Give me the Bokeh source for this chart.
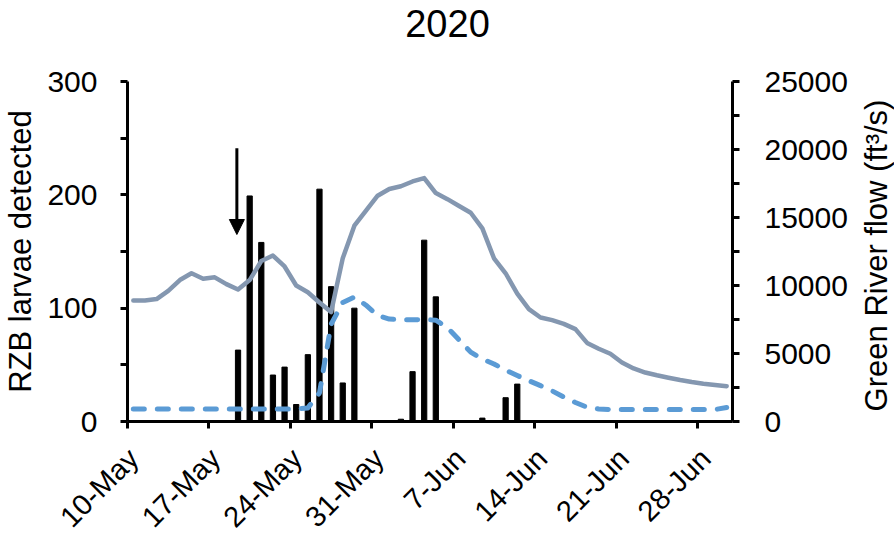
import numpy as np
import pandas as pd
from bokeh.plotting import figure
from bokeh.layouts import column, row
from bokeh.models import Range1d, LinearAxis, FixedTicker, Arrow, NormalHead, Label
from bokeh.embed import file_html
from bokeh.resources import INLINE

# ---------------- data ----------------
start_date = "2020-05-10"
end_date = "2020-06-30"
dates = pd.date_range(start_date, end_date, freq="D")

# Green River flow, solid grey line (ft3/s)
flow_solid = [8900, 8900, 9000, 9600, 10400, 10900, 10500, 10600, 10100, 9700,
              10400, 11800, 12200, 11400, 10000, 9500, 8750, 8050, 12000, 14400,
              15500, 16600, 17100, 17300, 17650, 17900, 16800, 16350, 15850, 15350,
              14200, 12000, 10900, 9400, 8260, 7650, 7450, 7180, 6790, 5780,
              5350, 4980, 4340, 3900, 3600, 3400, 3220, 3050, 2900, 2770, 2680, 2600]

# dashed blue line (ft3/s)
flow_dashed = [920, 920, 920, 920, 920, 920, 920, 920, 920, 920,
               920, 920, 920, 920, 920, 1000, 2100, 7150, 8750, 9150,
               8550, 7800, 7530, 7480, 7480, 7500, 7450, 6900, 6000, 5100,
               4600, 4230, 3780, 3380, 3000, 2640, 2250, 1800, 1400, 1050,
               920, 880, 880, 880, 880, 880, 880, 880, 880, 880, 880, 1030]

# RZB larvae detected (bars)
bar_dates = ["2020-05-19", "2020-05-20", "2020-05-21", "2020-05-22", "2020-05-23",
             "2020-05-24", "2020-05-25", "2020-05-26", "2020-05-27", "2020-05-28",
             "2020-05-29", "2020-06-02", "2020-06-03", "2020-06-04", "2020-06-05",
             "2020-06-09", "2020-06-11", "2020-06-12"]
bar_counts = [63, 199, 158, 41, 48, 15, 59, 205, 119, 34, 100, 2, 44, 160, 110, 3, 21, 33]

x_tick_dates = ["2020-05-10", "2020-05-17", "2020-05-24", "2020-05-31",
                "2020-06-07", "2020-06-14", "2020-06-21", "2020-06-28"]
x_tick_labels = ["10-May", "17-May", "24-May", "31-May", "7-Jun", "14-Jun", "21-Jun", "28-Jun"]

left_ticks = [0, 100, 200, 300]
left_minor = [50, 150, 250]
right_ticks = [0, 5000, 10000, 15000, 20000, 25000]
right_minor = [2500, 7500, 12500, 17500, 22500]

arrow_date = "2020-05-19"
arrow_top = 241
arrow_tip = 165

title_text = "2020"
left_label = "RZB larvae detected"
right_label = "Green River flow (ft\u00b3/s)"

# ---------------- positions ----------------
t0 = pd.Timestamp(start_date)
def day_pos(d, shift=0.5):
    return (pd.Timestamp(d) - t0).days + shift

line_x = [day_pos(d) for d in dates]
bar_x = [day_pos(d) for d in bar_dates]
tick_x = [day_pos(d, 0) for d in x_tick_dates]
n_days = len(dates)

FONT = "Liberation Sans"
TOTAL_W = 894
TOTAL_H = 540
TITLE_H = 45            # strip holding the chart title
FRAME_L, FRAME_R = 125, 732
FRAME_T, FRAME_B = 81, 421
MAIN_BOTTOM = 440       # page y where the main chart strip ends
MAIN_W = 852
MAIN_H = MAIN_BOTTOM - TITLE_H
SIDE_W = TOTAL_W - MAIN_W
TICKS_H = TOTAL_H - MAIN_BOTTOM
BORDER_TOP = FRAME_T - TITLE_H
BORDER_BOTTOM = MAIN_BOTTOM - FRAME_B

# ---------------- main chart ----------------
p = figure(width=MAIN_W, height=MAIN_H,
           x_range=Range1d(0, n_days), y_range=Range1d(0, 300),
           output_backend="svg", toolbar_location=None,
           min_border_left=FRAME_L, min_border_right=MAIN_W - FRAME_R,
           min_border_top=BORDER_TOP, min_border_bottom=BORDER_BOTTOM)
p.extra_y_ranges = {"flow": Range1d(0, 25000)}
p.outline_line_color = None
p.grid.visible = False
p.background_fill_color = "white"
p.border_fill_color = "white"
p.title.visible = False

p.vbar(x=bar_x, top=bar_counts, width=0.45, color="black")
p.line(line_x, flow_solid, y_range_name="flow", line_color="#8497B0",
       line_width=4.5, line_join="round", line_cap="round")
p.line(line_x, flow_dashed, y_range_name="flow", line_color="#5B9BD5",
       line_width=5, line_dash="11 13", line_cap="round", line_join="round")

ax_x = day_pos(arrow_date, 0.4)
p.add_layout(Arrow(end=NormalHead(size=15, fill_color="black", line_color="black", line_width=1),
                   x_start=ax_x, y_start=arrow_top, x_end=ax_x, y_end=arrow_tip,
                   line_width=3, line_color="black"))

def style_axis(ax):
    ax.axis_line_width = 3
    ax.axis_line_color = "black"
    ax.major_tick_line_width = 3
    ax.major_tick_line_color = "black"
    ax.minor_tick_line_width = 3
    ax.minor_tick_line_color = "black"
    ax.major_tick_in = 0
    ax.major_tick_out = 7
    ax.minor_tick_in = 0
    ax.minor_tick_out = 7
    ax.major_label_text_font = FONT
    ax.major_label_text_font_size = "30px"
    ax.major_label_text_color = "black"
    ax.axis_label_text_font = FONT
    ax.axis_label_text_font_size = "31px"
    ax.axis_label_text_font_style = "normal"
    ax.axis_label_text_color = "black"

ly = p.yaxis[0]
style_axis(ly)
ly.ticker = FixedTicker(ticks=left_ticks, minor_ticks=left_minor)
ly.axis_label = left_label
ly.major_label_standoff = 23
ly.axis_label_standoff = 6

ry = LinearAxis(y_range_name="flow")
style_axis(ry)
ry.ticker = FixedTicker(ticks=right_ticks, minor_ticks=right_minor)
ry.major_label_standoff = 25
p.add_layout(ry, "right")

# x axis: tick marks here, rotated tick labels drawn in the strip below
xa = p.xaxis[0]
style_axis(xa)
xa.ticker = FixedTicker(ticks=tick_x, minor_ticks=[])
xa.major_label_overrides = {t: "" for t in tick_x}
xa.major_label_standoff = 0
xa.major_label_text_font_size = "0px"

# ---------------- title strip ----------------
pt = figure(width=TOTAL_W, height=TITLE_H, x_range=Range1d(0, 1), y_range=Range1d(0, 1),
            output_backend="svg", toolbar_location=None,
            x_axis_location=None, y_axis_location=None, min_border=0)
pt.outline_line_color = None
pt.grid.visible = False
pt.title.visible = False
pt.add_layout(Label(x=447, y=TITLE_H - 23, x_units="screen", y_units="screen",
                    text=title_text, text_align="center", text_baseline="middle",
                    text_font=FONT, text_font_size="38px", text_color="black"))

# ---------------- right axis title strip ----------------
ps = figure(width=SIDE_W, height=MAIN_H, x_range=Range1d(0, 1), y_range=Range1d(0, 1),
            output_backend="svg", toolbar_location=None,
            x_axis_location=None, y_axis_location=None,
            min_border_left=0, min_border_right=0,
            min_border_top=BORDER_TOP, min_border_bottom=BORDER_BOTTOM)
ps.outline_line_color = None
ps.grid.visible = False
ps.title.visible = False
ps.add_layout(Label(x=876 - MAIN_W, y=FRAME_B - 255, x_units="screen", y_units="screen",
                    text=right_label, angle=np.pi / 2, text_align="center", text_baseline="middle",
                    text_font=FONT, text_font_size="31px", text_color="black"))

# ---------------- x tick label strip (same x scale as the main chart) ----------------
px_per_day = (FRAME_R - FRAME_L) / n_days
pb = figure(width=TOTAL_W, height=TICKS_H,
            x_range=Range1d(-FRAME_L / px_per_day, (TOTAL_W - FRAME_L) / px_per_day),
            y_range=Range1d(0, 1),
            output_backend="svg", toolbar_location=None,
            x_axis_location=None, y_axis_location=None, min_border=0)
pb.outline_line_color = None
pb.grid.visible = False
pb.title.visible = False
for tx, tl in zip(tick_x, x_tick_labels):
    pb.add_layout(Label(x=tx, y=TOTAL_H - 453, x_units="data", y_units="screen", x_offset=8,
                        text=tl, angle=np.pi / 4, text_align="right", text_baseline="middle",
                        text_font=FONT, text_font_size="29px", text_color="black"))

layout = column(pt, row(p, ps, spacing=0), pb, spacing=0)
open("out.html", "w").write(file_html(layout, INLINE))
